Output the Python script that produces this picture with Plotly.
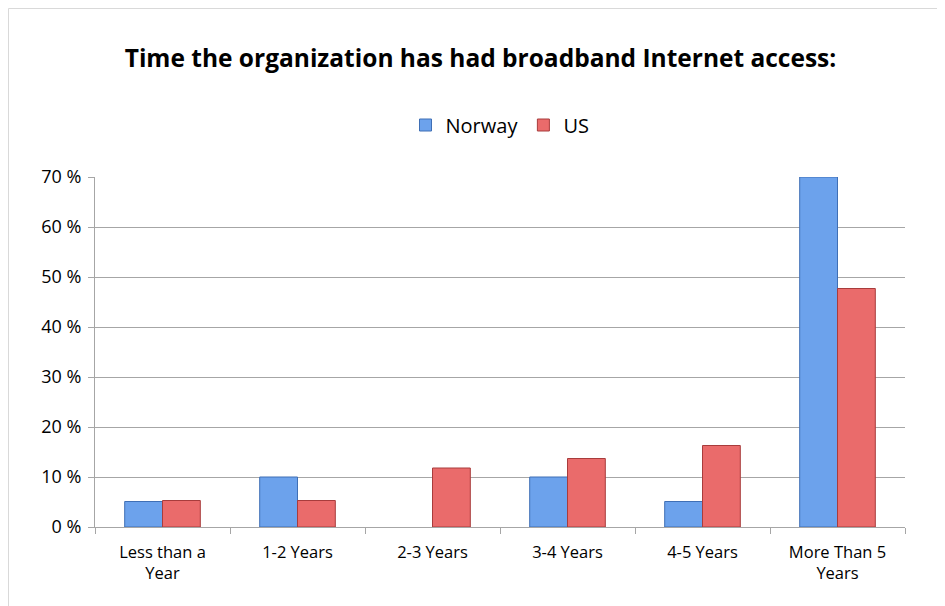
import plotly.graph_objects as go

categories = ["Less than a<br>Year", "1-2 Years", "2-3 Years", "3-4 Years", "4-5 Years", "More Than 5<br>Years"]
norway = [5.1, 10, 0, 10, 5.1, 70]
us = [5.3, 5.3, 11.8, 13.7, 16.3, 47.7]
y_ticks = [0, 10, 20, 30, 40, 50, 60, 70]
y_labels = [f"{v} %" for v in y_ticks]

font = "Open Sans, Liberation Sans, sans-serif"

# no outline on empty bars
norway_edge = [1 if v > 0 else 0 for v in norway]

fig = go.Figure()
fig.add_trace(go.Bar(x=categories, y=norway, name="Norway",
                     marker=dict(color="#6CA2EC", line=dict(color="#3F6FB5", width=norway_edge))))
fig.add_trace(go.Bar(x=categories, y=us, name="US",
                     marker=dict(color="#EA6B6B", line=dict(color="#A83C3C", width=1))))

# page has an 8px body margin, so the figure origin sits at (8, 8)
fig.update_layout(
    width=945, height=606,
    paper_bgcolor="white", plot_bgcolor="white",
    margin=dict(l=87, r=48, t=169, b=87),
    barmode="group", bargap=0.44, bargroupgap=0,
    title=dict(text="<b>Time the organization has had broadband Internet access:</b>",
               x=0.5, xanchor="center", y=1 - 50 / 606, yanchor="middle",
               font=dict(family=font, size=24.5, color="black")),
    legend=dict(orientation="h", x=0.5, xanchor="center", y=1 + 52 / 350, yanchor="middle",
                font=dict(family=font, size=20, color="black"), itemwidth=30),
    font=dict(family=font, color="black"),
)
fig.update_yaxes(range=[0, 70], tickvals=y_ticks, ticktext=y_labels,
                 showgrid=True, gridcolor="#a6a6a6", gridwidth=1,
                 showline=True, linecolor="#a6a6a6", linewidth=1,
                 ticks="outside", ticklen=6, tickcolor="#a6a6a6",
                 tickfont=dict(size=18), ticklabelstandoff=3, zeroline=False)
fig.update_xaxes(showline=True, linecolor="#a6a6a6", linewidth=1,
                 ticks="outside", tickson="boundaries", ticklen=6, tickcolor="#a6a6a6",
                 tickfont=dict(size=16.5), ticklabelstandoff=10)

# light frame along the top and left of the chart
fig.add_shape(type="rect", xref="paper", yref="paper",
              x0=-86.5 / 810, x1=2, y0=-1, y1=1 + 168.5 / 350,
              line=dict(color="#d9d9d9", width=1), fillcolor="rgba(0,0,0,0)")

fig.write_html("out.html")
